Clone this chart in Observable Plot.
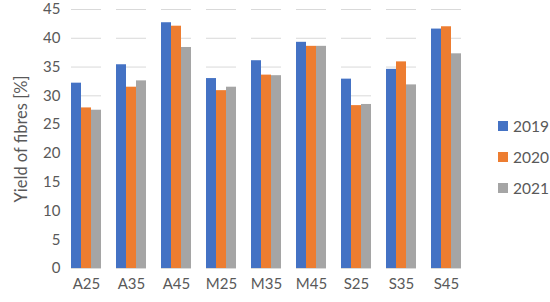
<!DOCTYPE html>
<html>
<head>
<meta charset="utf-8">
<script src="https://cdn.jsdelivr.net/npm/d3@7"></script>
<script src="https://cdn.jsdelivr.net/npm/@observablehq/plot@0.6"></script>
<style>
  html, body { margin: 0; padding: 0; background: #fff; }
  #wrap { position: relative; width: 550px; height: 302px; font-family: Lato, "Open Sans", sans-serif; }
  #chart svg text { font-size: 15px; fill: #595959; }
  #chart svg g[aria-label="y-axis label"] text { font-size: 16.5px; }
  #legend { position: absolute; left: 498px; top: 110px; font-size: 15.5px; color: #595959; }
  #legend div { display: flex; align-items: center; height: 31px; }
  #legend span.sw { display: inline-block; width: 10px; height: 10px; margin-right: 5px; }
</style>
</head>
<body>
<div id="wrap"><div id="chart"></div><div id="legend"></div></div>
<script>
const categories = ["A25", "A35", "A45", "M25", "M35", "M45", "S25", "S35", "S45"];
const years = ["2019", "2020", "2021"];
const values2019 = [32.2, 35.4, 42.7, 33.0, 36.1, 39.3, 32.9, 34.6, 41.6];
const values2020 = [27.9, 31.5, 42.1, 30.9, 33.6, 38.6, 28.3, 35.9, 42.0];
const values2021 = [27.5, 32.6, 38.4, 31.5, 33.5, 38.6, 28.5, 31.9, 37.3];
const colors = ["#4472C4", "#ED7D31", "#A5A5A5"];
const yTicks = [0, 5, 10, 15, 20, 25, 30, 35, 40, 45];

const series = [values2019, values2020, values2021];
const data = [];
categories.forEach((c, i) => years.forEach((y, j) => data.push({cat: c, year: y, value: series[j][i]})));

const chart = Plot.plot({
  width: 550,
  height: 302,
  marginLeft: 62,
  marginRight: 80,
  marginTop: 9,
  marginBottom: 34,
  style: {fontFamily: "Lato, 'Open Sans', sans-serif", fontSize: "15px", color: "#595959", background: "#fff"},
  fx: {domain: categories, paddingInner: 0.34, paddingOuter: 0.17, label: null, axis: "bottom", tickSize: 0, tickPadding: 10},
  x: {domain: years, padding: 0, axis: null},
  y: {domain: [0, 45], ticks: yTicks, label: "Yield of fibres [%]", labelAnchor: "center", labelArrow: "none", labelOffset: 56, tickSize: 0, tickPadding: 11},
  color: {domain: years, range: colors},
  marks: [
    Plot.gridY(yTicks, {stroke: "#D9D9D9", strokeOpacity: 1, strokeWidth: 1}),
    Plot.barY(data, {fx: "cat", x: "year", y: "value", fill: "year"})
  ]
});
document.getElementById("chart").appendChild(chart);

const legend = document.getElementById("legend");
years.forEach((y, j) => {
  const row = document.createElement("div");
  row.innerHTML = `<span class="sw" style="background:${colors[j]}"></span>${y}`;
  legend.appendChild(row);
});
</script>
</body>
</html>
